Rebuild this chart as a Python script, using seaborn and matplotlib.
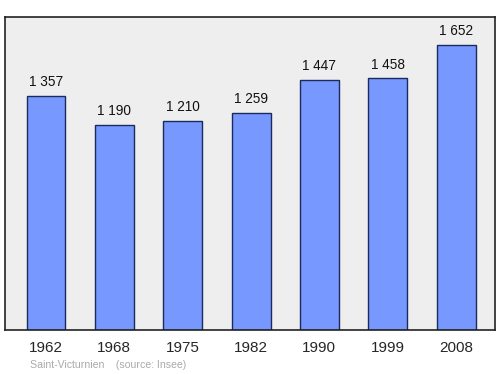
import matplotlib
matplotlib.use("Agg")
import matplotlib.pyplot as plt
import seaborn as sns
import pandas as pd

years = ["1962", "1968", "1975", "1982", "1990", "1999", "2008"]
population = [1357, 1190, 1210, 1259, 1447, 1458, 1652]
value_labels = ["1 357", "1 190", "1 210", "1 259", "1 447", "1 458", "1 652"]

sns.set_style("white")
plt.rcParams['font.family'] = ['Liberation Sans', 'DejaVu Sans']

df = pd.DataFrame({"year": years, "pop": population})

fig = plt.figure(figsize=(5, 3.74), dpi=100)
ax = fig.add_axes([0.01, 0.1176, 0.98, 0.837])
ax.set_facecolor("#eeeeee")
sns.barplot(data=df, x="year", y="pop", ax=ax, color="#7799ff", width=0.57,
            edgecolor="#1a2a5a", linewidth=1.0, saturation=1)
for i, (v, lab) in enumerate(zip(population, value_labels)):
    ax.text(i, v + 40, lab, ha="center", va="bottom", fontsize=9.8, color="#111111")
ax.set_xlim(-0.6, 6.57)
ax.set_ylim(0, 1814)
ax.set_yticks([])
ax.set_xlabel("")
ax.set_ylabel("")
ax.tick_params(axis="x", length=0, labelsize=11, pad=8)
for s in ax.spines.values():
    s.set_color("#222222")
    s.set_linewidth(1.2)
    s.set_visible(True)
fig.text(0.06, 0.012, "Saint-Victurnien    (source: Insee)", fontsize=7.6, color="#aaaaaa", ha="left", va="bottom")
fig.savefig("out.png", dpi=100)
